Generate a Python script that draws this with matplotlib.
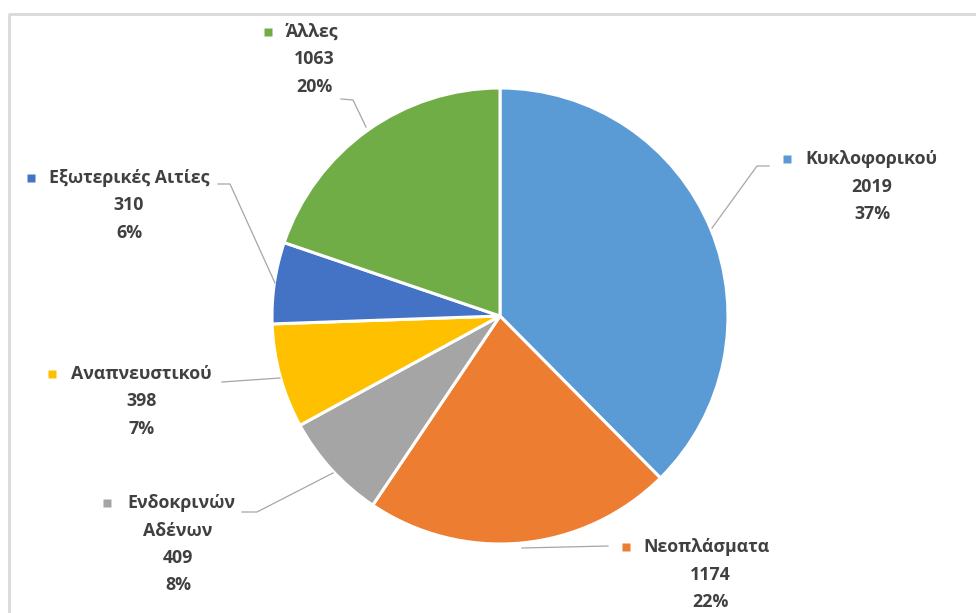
import matplotlib
matplotlib.use("Agg")
import matplotlib.pyplot as plt
from matplotlib.lines import Line2D

categories = ["Κυκλοφορικού", "Νεοπλάσματα", "Ενδοκρινών\nΑδένων", "Αναπνευστικού", "Εξωτερικές Αιτίες", "Άλλες"]
values = [2019, 1174, 409, 398, 310, 1063]
pct_labels = ["37%", "22%", "8%", "7%", "6%", "20%"]
colors = ["#5B9BD5", "#ED7D31", "#A5A5A5", "#FFC000", "#4472C4", "#70AD47"]

W, H = 976, 613
fig = plt.figure(figsize=(W / 100, H / 100), dpi=100)
ax = fig.add_axes([0, 0, 1, 1])

def Y(y):
    return H - y

ax.pie(values, colors=colors, startangle=90, counterclock=False,
       center=(500, Y(316)), radius=228,
       wedgeprops=dict(edgecolor="white", linewidth=2.2))
ax.set_xlim(0, W)
ax.set_ylim(0, H)
ax.set_aspect("equal")
ax.axis("off")

# chart border (top & left visible)
ax.add_line(Line2D([9, 9, W + 5], [Y(H + 5), Y(14), Y(14)], color="#d9d9d9", lw=2))

# label layout: (square x, square y, name x, centre x of following lines)
layout = [
    (787, 159, 805, 872),
    (626, 547, 643, 710),
    (107, 503, 127, 178),
    (52, 374, 71, 142),
    (31, 178, 49, 129),
    (268, 32, 286, 314),
]
leaders = [
    [(712, 228), (757, 166), (769, 166)],
    [(522, 548), (608, 546)],
    [(333, 473), (257, 512), (242, 512)],
    [(280, 378), (222, 382)],
    [(275, 283), (230, 184), (218, 184)],
    [(366, 127), (353, 100), (341, 99)],
]
tc = "#404040"
font = dict(family=["Open Sans", "DejaVu Sans"], fontweight="bold", fontsize=12.8, color=tc)
lh = 27.5
for i, cat in enumerate(categories):
    sx, sy, nx, cx = layout[i]
    ax.plot([sx], [Y(sy)], marker="s", ms=5.5, color=colors[i], mec="none")
    parts = cat.split("\n")
    ax.text(nx, Y(sy), parts[0], ha="left", va="center", **font)
    rest = parts[1:] + [str(values[i]), pct_labels[i]]
    for k, t in enumerate(rest):
        ax.text(cx, Y(sy + lh * (k + 1)), t, ha="center", va="center", **font)
    pts = leaders[i]
    ax.add_line(Line2D([p[0] for p in pts], [Y(p[1]) for p in pts], color="#a6a6a6", lw=0.9))

fig.savefig("out.png", dpi=100, facecolor="white")
